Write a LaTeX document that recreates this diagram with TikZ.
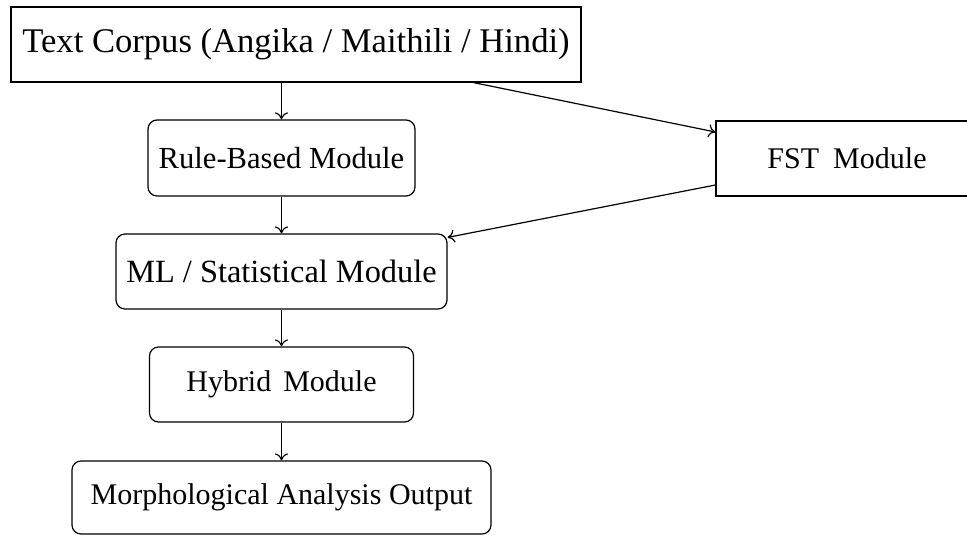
\documentclass[tikz,border=0pt]{standalone}
\usepackage{fontspec}
\setmainfont{Liberation Serif}
\usetikzlibrary{arrows.meta}
\newcommand{\fs}[1]{\fontsize{#1}{#1}\selectfont}
\begin{document}
\begin{tikzpicture}[x=0.5pt,y=-0.5pt,
  every node/.style={inner sep=0pt, line width=0.6pt, draw=black},
  sqbox/.style={rectangle},
  rbox/.style={rectangle, rounded corners=4.5pt},
  flow/.style={line width=0.6pt, -{To[length=3.5pt,width=6.5pt]}}
]
\useasboundingbox (0,0) rectangle (967,536);
\begin{scope}
\clip (0,0) rectangle (967,536);
\node[sqbox, font=\fs{17.3}, minimum width=285pt, minimum height=37.5pt] (corpus) at (296,44.5) {Text Corpus (Angika / Maithili / Hindi)};
\node[rbox, font=\fs{15.3}, minimum width=133.5pt, minimum height=38pt] (rule) at (281.5,158) {Rule-Based Module};
\node[sqbox, font=\fs{15}, minimum width=131pt, minimum height=37.5pt] (fst) at (847,158.5) {FST\hspace{0.47em}Module};
\node[rbox, font=\fs{16.2}, minimum width=165.5pt, minimum height=37.5pt] (ml) at (281.5,271.5) {ML / Statistical Module};
\node[rbox, font=\fs{15}, minimum width=132pt, minimum height=37.5pt] (hybrid) at (281.5,384.5) {Hybrid\hspace{0.4em}Module};
\node[rbox, font=\fs{15}, minimum width=209.5pt, minimum height=36.5pt] (morph) at (281.5,497.5) {Morphological Analysis Output};

\draw[flow] (rule.north |- corpus.south) -- (rule.north);
\draw[flow] (rule.south) -- (ml.north);
\draw[flow] (ml.south) -- (hybrid.north);
\draw[flow] (hybrid.south) -- (morph.north);
\draw[flow] ([xshift=-54pt]corpus.south east) -- ([yshift=13.25pt]fst.west);
\draw[flow] ([yshift=-13.25pt]fst.west) -- ([yshift=-2pt]ml.north east);
\end{scope}
\end{tikzpicture}
\end{document}
